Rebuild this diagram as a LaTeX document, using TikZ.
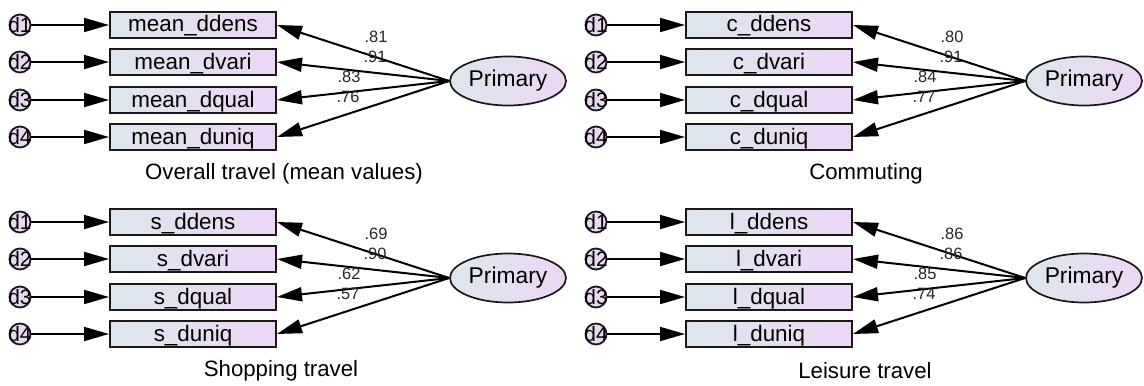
\documentclass[tikz,border=0pt]{standalone}
\usepackage{fontspec}
\setmainfont{Liberation Sans}
\usetikzlibrary{arrows.meta,shapes.geometric}
\definecolor{boxleft}{RGB}{221,231,237}
\definecolor{boxright}{RGB}{237,214,245}
\definecolor{errfill}{RGB}{234,216,243}
\definecolor{edge}{RGB}{25,25,25}
\tikzset{
  obs/.style={draw=edge, line width=1pt, left color=boxleft, right color=boxright,
    minimum width=83pt, minimum height=12.75pt, inner sep=0pt,
    text height=8.5pt, text depth=1.5pt, font=\fontsize{11.2}{12}\selectfont},
  lat/.style={ellipse, draw=edge, line width=0.85pt, left color=boxleft, right color=boxright,
    minimum width=58pt, minimum height=24.5pt, inner sep=0pt,
    font=\fontsize{11.4}{12}\selectfont},
  err/.style={circle, draw=edge, line width=0.9pt, fill=errfill, minimum size=10.5pt, inner sep=0pt},
  errlab/.style={inner sep=0pt, font=\fontsize{10.4}{10}\selectfont},
  link/.style={draw=black, line width=1pt, -{Triangle[length=12.5pt,width=7pt]}},
  coef/.style={inner sep=0pt, text=black!85, font=\fontsize{8.2}{9}\selectfont},
  caption/.style={inner sep=0pt, font=\fontsize{11.1}{12}\selectfont}
}
% One measurement model: latent factor, four indicators, four error terms
\newcommand\sempanel[8]{%
  \begin{scope}[shift={(#2,#3)}]
    \node[lat] (#1f) at (508,81) {Primary};
    \foreach \i/\y/\v in {1/25/ddens,2/62/dvari,3/100/dqual,4/137/duniq} {
      \node[obs] (#1v\i) at (193,\y) {#4\_\v};
      \node[err] (#1e\i) at (20,\y) {};
      \node[errlab] (#1d\i) at (#1e\i) {d\i};
      \draw[link] (#1e\i) -- (#1v\i);
      \draw[link] (#1f.west) -- (#1v\i.east);
    }
    \node[coef] (#1c1) at (376,37) {#5};
    \node[coef] (#1c2) at (375,57) {#6};
    \node[coef] (#1c3) at (349,77) {#7};
    \node[coef] (#1c4) at (348,97) {#8};
  \end{scope}}
\begin{document}
\begin{tikzpicture}[x=0.5pt, y=-0.5pt]
  \fill[white] (0,0) rectangle (1144,385);
  \useasboundingbox (0,0) rectangle (1144,385);
  \sempanel{A}{0}{0}{mean}{.81}{.91}{.83}{.76}
  \sempanel{B}{576}{0}{c}{.80}{.91}{.84}{.77}
  \sempanel{C}{0}{197}{s}{.69}{.90}{.62}{.57}
  \sempanel{D}{576}{197}{l}{.86}{.86}{.85}{.74}
  \node[caption] (Acap) at (284,174) {Overall travel (mean values)};
  \node[caption] (Bcap) at (866,174) {Commuting};
  \node[caption] (Ccap) at (281,371) {Shopping travel};
  \node[caption] (Dcap) at (865,371) {Leisure travel};
\end{tikzpicture}
\end{document}
